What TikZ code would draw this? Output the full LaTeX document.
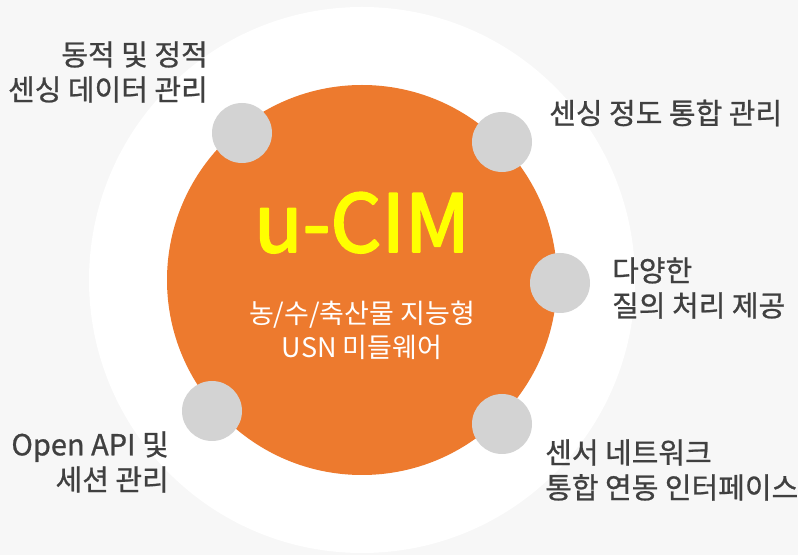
\documentclass[tikz,border=0pt]{standalone}
\usepackage{fontspec}
\setmainfont{Noto Sans CJK KR}
\definecolor{bggray}{HTML}{F7F7F7}
\definecolor{coreorange}{HTML}{ED7A2E}
\definecolor{dotgray}{HTML}{D3D3D3}
\definecolor{textgray}{HTML}{404040}
\definecolor{titleyellow}{HTML}{FFFF00}
\tikzset{
  dot/.style={circle,draw=none,fill=dotgray,minimum size=60bp,inner sep=0pt},
  itemtext/.style={draw=none,inner sep=0pt,text=textgray,font=\fontsize{29bp}{35bp}\selectfont\addfontfeature{FakeBold=0.8}},
}
\begin{document}
\begin{tikzpicture}[line join=bevel,]
%%
\useasboundingbox (0bp,0bp) rectangle (798bp,555bp);
\fill [bggray] (0bp,0bp) rectangle (798bp,555bp);
\node (ring) at (362bp,275bp) [circle,draw=none,fill=white,minimum size=546bp,inner sep=0pt] {};
  \node (core) at (362bp,275bp) [circle,draw=none,fill=coreorange,minimum size=390bp,inner sep=0pt] {};
  \node (title) at (362bp,303bp) [draw=none,anchor=base,inner sep=0pt,text=titleyellow,font=\fontsize{80bp}{80bp}\selectfont\addfontfeature{FakeBold=2.5}] {u-CIM};
  \node (subtitle) at (362bp,225bp) [draw=none,align=center,text=white,font=\fontsize{27bp}{34bp}\selectfont] {농/수/축산물 지능형\\USN 미들웨어};
%
  \node (dot_0) at (242bp,422bp) [dot] {};
  \node (dot_1) at (502bp,413bp) [dot] {};
  \node (dot_2) at (560bp,272bp) [dot] {};
  \node (dot_3) at (502bp,131bp) [dot] {};
  \node (dot_4) at (212bp,144bp) [dot] {};
%
  \node (item_0) at (208bp,483bp) [itemtext,anchor=east,align=right] {동적 및 정적\\센싱 데이터 관리};
  \node (item_1) at (549bp,442bp) [itemtext,anchor=west] {센싱 정도 통합 관리};
  \node (item_2) at (612bp,267bp) [itemtext,anchor=west,align=left] {다양한\\질의 처리 제공};
  \node (item_3) at (545bp,85bp) [itemtext,anchor=west,align=left] {센서 네트워크\\통합 연동 인터페이스};
  \node (item_4) at (169bp,93bp) [itemtext,anchor=east,align=right] {Open API 및\\세션 관리};
%
\end{tikzpicture}
\end{document}
